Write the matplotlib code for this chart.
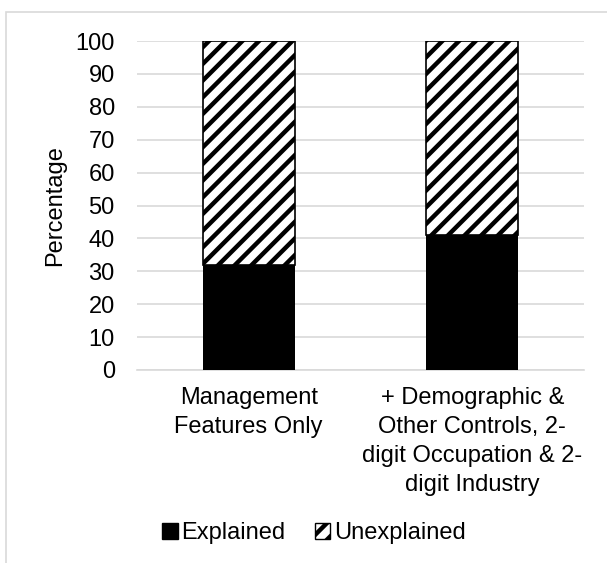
import matplotlib.pyplot as plt
from matplotlib.patches import Patch, Rectangle

plt.rcParams['font.family'] = ['Liberation Sans', 'DejaVu Sans']
plt.rcParams['hatch.linewidth'] = 3.2

categories = ['Management\nFeatures Only',
              '+ Demographic &\nOther Controls, 2-\ndigit Occupation & 2-\ndigit Industry']
explained = [32, 41]
unexplained = [68, 59]
yticks = [0, 10, 20, 30, 40, 50, 60, 70, 80, 90, 100]

W, H = 607, 563
fig = plt.figure(figsize=(W / 100, H / 100), dpi=100)
ax = fig.add_axes([137 / W, 1 - 370 / H, 447 / W, 329 / H])

x = range(len(categories))
ax.bar(x, explained, width=0.41, color='black', edgecolor='black', linewidth=0,
       label='Explained', zorder=3)
ax.bar(x, unexplained, width=0.41, bottom=explained, color='white', edgecolor='black',
       hatch='//', linewidth=1.2, label='Unexplained', zorder=3)

ax.set_xlim(-0.5, 1.5)
ax.set_ylim(0, 100)
ax.set_yticks(yticks)
ax.set_xticks(list(x))
ax.set_xticklabels(categories, fontsize=17, linespacing=1.42)
ax.tick_params(axis='y', length=0, pad=16, labelsize=17)
ax.tick_params(axis='x', length=0, pad=12)
ax.grid(axis='y', color='#d9d9d9', linewidth=1.2, zorder=0)
for side in ['top', 'right', 'left']:
    ax.spines[side].set_visible(False)
ax.spines['bottom'].set_color('#d9d9d9')
ax.spines['bottom'].set_linewidth(1.2)

fig.text(55 / W, 1 - 206 / H, 'Percentage', rotation=90, ha='center', va='center',
         fontsize=17)

handles = [Patch(facecolor='black', edgecolor='black'),
           Patch(facecolor='white', edgecolor='black', hatch='//')]
fig.legend(handles, ['Explained', 'Unexplained'], loc='center',
           bbox_to_anchor=(314 / W, 1 - 533 / H), ncol=2, frameon=False,
           fontsize=17, handlelength=0.65, handleheight=0.65,
           handletextpad=0.15, columnspacing=1.25)

# chart area border (extends past the right and bottom edges)
fig.patches.append(Rectangle((6 / W, -0.1), 1.2, 1.1 - 12 / H, transform=fig.transFigure,
                             fill=False, edgecolor='#d9d9d9', linewidth=1.2))

plt.savefig('out.png', dpi=100)
